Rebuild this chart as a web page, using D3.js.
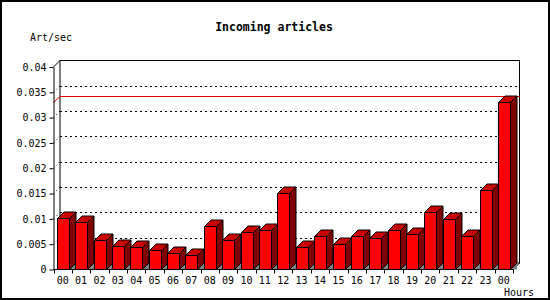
<!DOCTYPE html>
<html>
<head>
<meta charset="utf-8">
<script src="https://cdn.jsdelivr.net/npm/d3@7"></script>
<style type="text/css">
  body{
    margin: 0px;
    background: white;
  }
  text{
    font-family: 'DejaVu Sans Mono', monospace;
    font-size: 10px;
    fill: black;
  }
  .title{
    font-weight: bold;
    font-size: 11.5px;
  }
</style>
</head>
<body>

<script>

// chart data
var hours = ["00","01","02","03","04","05","06","07","08","09","10","11",
             "12","13","14","15","16","17","18","19","20","21","22","23","00"];
var rates = [0.0101, 0.0094, 0.0058, 0.0046, 0.0044, 0.0039, 0.0032, 0.0028,
             0.0085, 0.0058, 0.0075, 0.0078, 0.0152, 0.0044, 0.0066, 0.0050,
             0.0066, 0.0062, 0.0079, 0.0070, 0.0114, 0.0099, 0.0066, 0.0158, 0.0330];
var yTicks = [0, 0.005, 0.01, 0.015, 0.02, 0.025, 0.03, 0.035, 0.04];
var yTickLabels = ["0","0.005","0.01","0.015","0.02","0.025","0.03","0.035","0.04"];

var width = 550, height = 300;
var x0 = 53.5, x1 = 513, d = 6.5;   // d = 3D depth

var svg = d3.select("body").append("svg")
    .attr("width", width)
    .attr("height", height);

var x = d3.scaleBand().domain(d3.range(hours.length)).range([x0, x1]);
var y = d3.scaleLinear().domain([0, 0.04]).range([269.5, 67]);

// outer frame
svg.append("rect")
    .attr("x", 1).attr("y", 1)
    .attr("width", width - 2).attr("height", height - 2)
    .attr("fill", "white")
    .attr("stroke", "black")
    .attr("stroke-width", 2);

svg.append("text")
    .attr("class", "title")
    .attr("x", 274).attr("y", 31)
    .attr("text-anchor", "middle")
    .text("Incoming articles");

svg.append("text")
    .attr("x", 30).attr("y", 41)
    .text("Art/sec");

// back wall
svg.append("rect")
    .attr("x", x0 + d).attr("y", y(0.04) - d)
    .attr("width", x1 - x0).attr("height", y(0) - y(0.04))
    .attr("fill", "white")
    .attr("stroke", "black");

// grid on back wall + side wall
var grid = yTicks.filter(function(t) { return t > 0 && t < 0.04; });
svg.selectAll(".grid").data(grid).enter().append("line")
    .attr("x1", x0 + d).attr("x2", x1 + d)
    .attr("y1", function(t) { return Math.round(y(t) - d) + 0.5; })
    .attr("y2", function(t) { return Math.round(y(t) - d) + 0.5; })
    .attr("stroke", "black")
    .attr("stroke-dasharray", "2,3");
svg.selectAll(".sgrid").data(grid).enter().append("line")
    .attr("x1", x0).attr("x2", x0 + d)
    .attr("y1", function(t) { return y(t); })
    .attr("y2", function(t) { return y(t) - d; })
    .attr("stroke", "black")
    .attr("stroke-dasharray", "1,3");

// max line
var maxV = d3.max(rates);
svg.append("path")
    .attr("d", d3.line()([[x0, y(maxV)], [x0 + d, Math.round(y(maxV) - d) + 0.5], [x1 + d, Math.round(y(maxV) - d) + 0.5]]))
    .attr("fill", "none")
    .attr("stroke", "#e00000");

// edges of the box
svg.append("line")
    .attr("x1", x0).attr("y1", y(0.04))
    .attr("x2", x0 + d).attr("y2", y(0.04) - d)
    .attr("stroke", "black");
svg.append("line")
    .attr("x1", x1).attr("y1", y(0))
    .attr("x2", x1 + d).attr("y2", y(0) - d)
    .attr("stroke", "black");

// bars
var step = x.step();
var bw = step * 0.64;
var bars = svg.selectAll(".bar").data(rates).enter().append("g");

bars.each(function(v, i) {
  var g = d3.select(this);
  var bx = Math.round(x(i) + (step - bw) / 2) + 0.5;
  var br = bx + Math.round(bw);
  var top = Math.round(y(v)) + 0.5;
  var base = y(0);

  g.append("path")
      .attr("d", d3.line()([[br, base], [br + d, base - d], [br + d, base]]) + "Z")
      .attr("fill", "#808080");
  g.append("path")
      .attr("d", d3.line()([[br, top], [br + d, top - d], [br + d, base - d], [br, base]]) + "Z")
      .attr("fill", "#800000")
      .attr("stroke", "black");
  g.append("path")
      .attr("d", d3.line()([[bx, top], [bx + d, top - d], [br + d, top - d], [br, top]]) + "Z")
      .attr("fill", "#c80000")
      .attr("stroke", "black");
  g.append("rect")
      .attr("x", bx).attr("y", top)
      .attr("width", br - bx).attr("height", base - top)
      .attr("fill", "#ff0000")
      .attr("stroke", "black");
});

// y axis
var yAxis = svg.append("g")
    .attr("transform", "translate(" + x0 + ",0)")
    .call(d3.axisLeft(y)
      .tickValues(yTicks)
      .tickSize(4)
      .tickSizeOuter(0)
      .tickFormat(function(t, i) { return yTickLabels[i]; }));
yAxis.select(".domain").attr("stroke", "black");
yAxis.selectAll("text")
    .attr("x", -7)
    .style("font-family", "'DejaVu Sans Mono', monospace")
    .style("font-size", "10px");

// x axis
var xAxis = svg.append("g")
    .attr("transform", "translate(0," + y(0) + ")");
xAxis.append("line")
    .attr("x1", x0).attr("x2", x1)
    .attr("stroke", "black");
xAxis.selectAll(".tk").data(d3.range(hours.length + 1)).enter().append("line")
    .attr("x1", function(i) { return Math.round(x0 + i * step) + 0.5; })
    .attr("x2", function(i) { return Math.round(x0 + i * step) + 0.5; })
    .attr("y1", 0).attr("y2", 4)
    .attr("stroke", "black");
xAxis.selectAll(".lb").data(hours).enter().append("text")
    .attr("x", function(h, i) { return x(i) + step / 2; })
    .attr("y", 14.5)
    .attr("text-anchor", "middle")
    .text(function(h) { return h; });

svg.append("text")
    .attr("x", 504).attr("y", 296)
    .text("Hours");

</script>

</body>
</html>
